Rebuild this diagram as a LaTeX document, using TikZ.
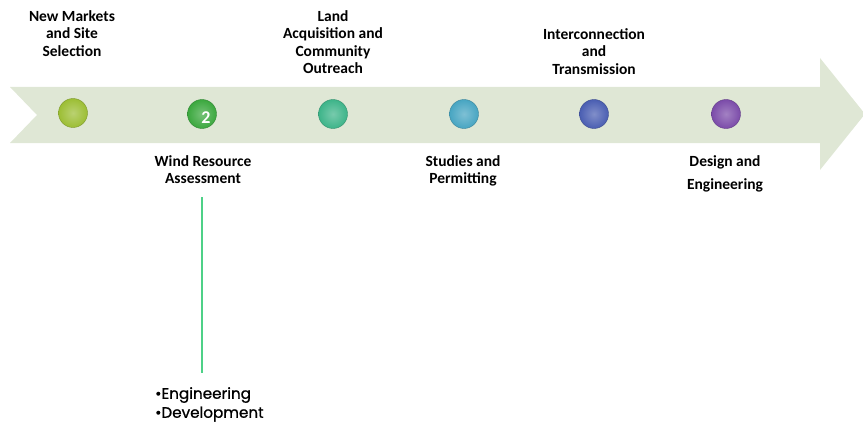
\documentclass[tikz,border=0pt]{standalone}
\usepackage{fontspec}
\setmainfont{Carlito}
\newfontfamily\bulletfont{Poppins}[FakeBold=1]
\begin{document}
\begin{tikzpicture}[x=1pt,y=-1pt,
  lbl/.style={font=\bfseries\fontsize{15.5}{17.5}\selectfont, align=center, text=black, inner sep=0pt},
  dot/.style={circle, minimum size=29pt, inner sep=0pt, draw=#1!80!black, line width=0.4pt, inner color=#1!70!white, outer color=#1},
]
\useasboundingbox (0,0) rectangle (863,428);
\definecolor{arrowfill}{HTML}{DFE7D5}
\definecolor{c1}{HTML}{9CBE34}
\definecolor{c2}{HTML}{3BA83E}
\definecolor{c3}{HTML}{3DB489}
\definecolor{c4}{HTML}{47A5C2}
\definecolor{c5}{HTML}{4A5EB2}
\definecolor{c6}{HTML}{7B4BA9}
\definecolor{linegreen}{HTML}{4ED187}
% arrow
\fill[arrowfill] (10,87) -- (820,87) -- (820,58) -- (865,114) -- (820,170) -- (820,143) -- (10,143) -- (37,115) -- cycle;
% circles
\node[dot=c1] (s1) at (73,113) {};
\node[dot=c2] (s2) at (202,114) {};
\node[text=white, font=\bfseries\fontsize{18}{18}\selectfont, inner sep=0pt] (n2) at (206,118) {2};
\node[dot=c3] (s3) at (333,114) {};
\node[dot=c4] (s4) at (464,114) {};
\node[dot=c5] (s5) at (594,114) {};
\node[dot=c6] (s6) at (726,114) {};
% labels
\node[lbl, anchor=north] (l1) at (72,10) {New Markets\\and Site\\Selection};
\node[lbl, anchor=north] (l3) at (333,10) {Land\\Acquisition and\\Community\\Outreach};
\node[lbl, anchor=north] (l5) at (594,28) {Interconnection\\and\\Transmission};
\node[lbl, anchor=north] (l2) at (203,155) {Wind Resource\\Assessment};
\node[lbl, anchor=north] (l4) at (463,155) {Studies and\\Permitting};
\node[lbl, anchor=north, align=center] (l6) at (725,155) {Design and\\[6pt]Engineering};
% connector line
\coordinate (ltop) at (202,197);
\coordinate (lbot) at (202,373);
\draw[linegreen, line width=1.2pt] (ltop) -- (lbot);
\node[anchor=north west, align=left, inner sep=0pt, font=\bulletfont\fontsize{15.2}{19}\selectfont] (b) at (155,387) {•Engineering\\•Development};
\end{tikzpicture}
\end{document}
